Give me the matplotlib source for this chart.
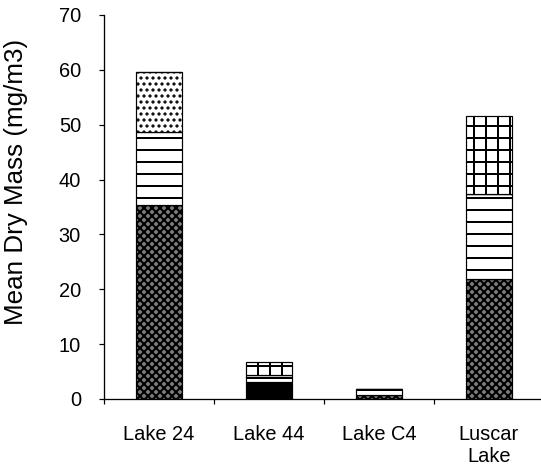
import matplotlib
matplotlib.use("Agg")
import matplotlib.pyplot as plt
import numpy as np

plt.rcParams['font.family'] = ['Liberation Sans', 'DejaVu Sans']
plt.rcParams['hatch.linewidth'] = 2.0

categories = ["Lake 24", "Lake 44", "Lake C4", "Luscar\nLake"]
series_a = [35.3, 0.0, 0.8, 21.8]   # cross-hatched
series_b = [0.0, 3.1, 0.0, 0.0]     # solid black
series_c = [13.3, 1.3, 1.0, 15.5]   # horizontal lines
series_d = [11.0, 0.0, 0.0, 0.0]    # dots
series_e = [0.0, 2.3, 0.0, 14.2]    # grid
yticks = [0, 10, 20, 30, 40, 50, 60, 70]

dpi = 72
fig = plt.figure(figsize=(541 / dpi, 472 / dpi), dpi=dpi)
ax = fig.add_axes([104 / 541, 73 / 472, 440 / 541, 384 / 472])

x = np.arange(len(categories))
w = 0.42
styles = [
    (series_a, dict(facecolor='#7a7a7a', hatch='xxx')),
    (series_b, dict(facecolor='black', hatch=None)),
    (series_c, dict(facecolor='white', hatch='-')),
    (series_d, dict(facecolor='white', hatch='..')),
    (series_e, dict(facecolor='white', hatch='+')),
]
bottom = np.zeros(len(categories))
for vals, st in styles:
    vals = np.array(vals, dtype=float)
    ax.bar(x, vals, w, bottom=bottom, edgecolor='black', linewidth=1.2, **st)
    bottom += vals

ax.set_ylim(0, 70)
ax.set_xlim(-0.5, 3.5)
ax.set_yticks(yticks)
ax.set_xticks(x)
ax.set_xticklabels(categories, fontsize=20)
ax.set_xticks(np.arange(-0.5, 4.0, 1.0), minor=True)
ax.tick_params(axis='x', which='major', length=0, pad=26)
ax.tick_params(axis='x', which='minor', length=5, width=1.2, direction='out')
ax.tick_params(axis='y', length=5, width=1.2, labelsize=20, pad=18)
for s in ['top', 'right']:
    ax.spines[s].set_visible(False)
for s in ['left', 'bottom']:
    ax.spines[s].set_linewidth(1.3)
ax.set_ylabel("Mean Dry Mass (mg/m3)", fontsize=26)
ax.yaxis.set_label_coords(-(104 - 28) / 440, (399 - 182) / 384)

fig.savefig("out.png", dpi=dpi)
